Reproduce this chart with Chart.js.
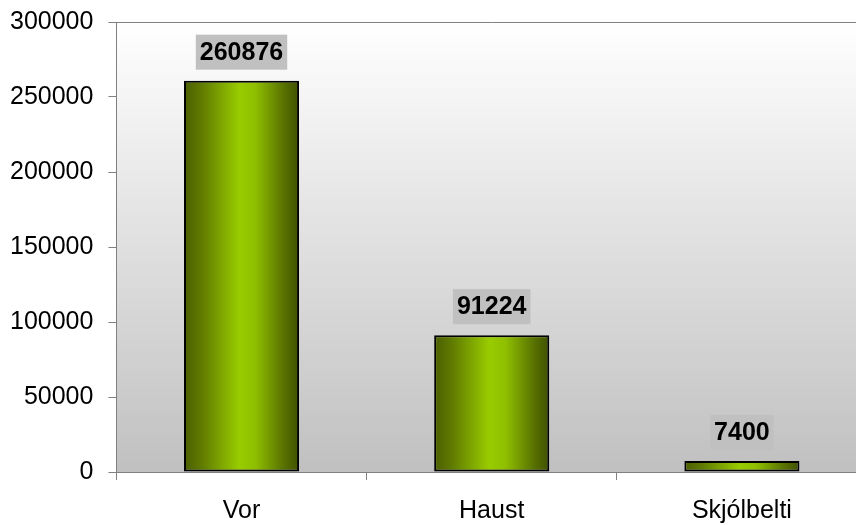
<!DOCTYPE html>
<html>
<head>
<meta charset="utf-8">
<script src="https://cdn.jsdelivr.net/npm/chart.js@4"></script>
<style>
  html, body { margin: 0; padding: 0; background: #fff; }
  #wrap { width: 856px; height: 525px; overflow: hidden; }
  #canevas { display: block; margin-top: -8px; }
</style>
</head>
<body>
<div id="wrap"><canvas id="canevas" width="867" height="533"></canvas></div>
<script>
var categories = ["Vor", "Haust", "Skjólbelti"];
var values = [260876, 91224, 7400];
var yTicks = [0, 50000, 100000, 150000, 200000, 250000, 300000];

var FONT = '"Liberation Sans", Arial, sans-serif';
var BAR_FRAC = 0.46;

// plot background: white at top fading to grey, plus top border line
var plotBackground = {
	id: 'plotBackground',
	beforeDraw: function (chart) {
		var ctx = chart.ctx, a = chart.chartArea;
		var g = ctx.createLinearGradient(0, a.top, 0, a.bottom);
		g.addColorStop(0, '#ffffff');
		g.addColorStop(1, '#c0c0c0');
		ctx.save();
		ctx.fillStyle = g;
		ctx.fillRect(a.left, a.top, chart.width - a.left, a.bottom - a.top);
		ctx.strokeStyle = '#808080';
		ctx.lineWidth = 1;
		ctx.beginPath();
		ctx.moveTo(a.left, a.top + 0.5);
		ctx.lineTo(chart.width, a.top + 0.5);
		ctx.stroke();
		ctx.restore();
	}
};

// value labels above bars with grey box
var valueLabels = {
	id: 'valueLabels',
	afterDatasetsDraw: function (chart) {
		var ctx = chart.ctx;
		var meta = chart.getDatasetMeta(0);
		ctx.save();
		ctx.font = 'bold 25px ' + FONT;
		ctx.textAlign = 'center';
		ctx.textBaseline = 'middle';
		meta.data.forEach(function (bar, i) {
			var txt = String(values[i]);
			var w = ctx.measureText(txt).width;
			var cy = bar.y - 29;
			ctx.fillStyle = '#c0c0c0';
			ctx.fillRect(bar.x - w / 2 - 4, cy - 17, w + 8, 35);
			ctx.fillStyle = '#000';
			ctx.fillText(txt, bar.x, cy + 1);
		});
		ctx.restore();
	}
};

// horizontal cylinder-like gradient per bar
function barFill(context) {
	var xs = context.chart.scales.x;
	if (!xs || !xs.width) return '#99cc00';
	var cx = xs.getPixelForValue(context.dataIndex);
	var w = xs.width / categories.length * BAR_FRAC;
	var g = context.chart.ctx.createLinearGradient(cx - w / 2, 0, cx + w / 2, 0);
	g.addColorStop(0, '#4a5e00');
	g.addColorStop(0.15, '#5f7a00');
	g.addColorStop(0.48, '#99cc00');
	g.addColorStop(0.62, '#8fbf00');
	g.addColorStop(0.88, '#566e00');
	g.addColorStop(1, '#3f5200');
	return g;
}

var c = document.getElementById("canevas");
var ctxD = c.getContext('2d');
var myChart = new Chart(ctxD, {
	type: 'bar',
	data: {
		labels: categories,
		datasets: [
			{
				data: values,
				backgroundColor: barFill,
				borderColor: '#000000',
				borderWidth: 2,
				borderSkipped: false,
				categoryPercentage: BAR_FRAC,
				barPercentage: 1.0
			}
		]
	},
	options: {
		responsive: false,
		animation: false,
		layout: { padding: { top: -2, right: 0, bottom: -17, left: -5 } },
		plugins: {
			legend: { display: false },
			tooltip: { enabled: false }
		},
		scales: {
			x: {
				grid: { drawOnChartArea: false, drawTicks: true, tickLength: 8, color: '#808080', offset: true },
				border: { display: true, color: '#808080', width: 1 },
				ticks: {
					color: '#000',
					font: { family: FONT, size: 25 },
					padding: 16
				}
			},
			y: {
				min: 0,
				max: 300000,
				afterBuildTicks: function (axis) {
					axis.ticks = yTicks.map(function (v) { return { value: v }; });
				},
				grid: { drawOnChartArea: false, drawTicks: true, tickLength: 8, color: '#808080' },
				border: { display: true, color: '#808080', width: 1 },
				ticks: {
					color: '#000',
					font: { family: FONT, size: 25 },
					padding: 15,
					callback: function (v) { return String(v); }
				}
			}
		}
	},
	plugins: [plotBackground, valueLabels]
});
</script>
</body>
</html>
